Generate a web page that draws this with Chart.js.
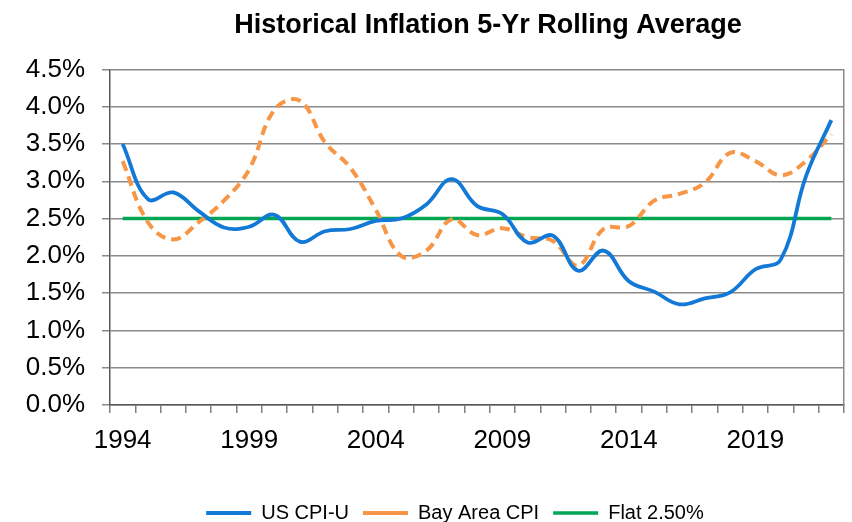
<!DOCTYPE html>
<html>
<head>
<meta charset="utf-8">
<script src="https://cdn.jsdelivr.net/npm/chart.js@4.4.1/dist/chart.umd.min.js"></script>
<style>
  html, body { margin: 0; padding: 0; background: #ffffff; }
  #wrap { width: 852px; height: 522px; }
</style>
</head>
<body>
<div id="wrap"><canvas id="c" width="852" height="522"></canvas></div>
<script>
const years = [1994,1995,1996,1997,1998,1999,2000,2001,2002,2003,2004,2005,2006,2007,2008,2009,2010,2011,2012,2013,2014,2015,2016,2017,2018,2019,2020,2021,2022];
const usCpiU = [3.50,2.76,2.85,2.60,2.38,2.39,2.55,2.19,2.33,2.36,2.47,2.50,2.69,3.03,2.67,2.56,2.18,2.27,1.80,2.07,1.66,1.52,1.35,1.43,1.51,1.82,1.95,3.07,3.82];
const bayAreaCpi = [3.27,2.45,2.22,2.45,2.74,3.16,3.96,4.08,3.52,3.18,2.62,2.00,2.07,2.49,2.28,2.37,2.25,2.20,1.87,2.36,2.40,2.74,2.83,2.98,3.38,3.27,3.08,3.27,3.63];
const flat = years.map(() => 2.5);
const labeledYears = [1994,1999,2004,2009,2014,2019];
const yTicks = [0,0.5,1,1.5,2,2.5,3,3.5,4,4.5];

const FONT = "'Liberation Sans', Arial, sans-serif";

// nudge title and legend horizontally to match the original placement
const nudge = {
  id: 'nudge',
  afterLayout(chart) {
    if (chart.legend) { chart.legend.left += 24; chart.legend.right += 24; }
    if (chart.titleBlock) { chart.titleBlock.left += 11; chart.titleBlock.right += 11; }
  }
};

new Chart(document.getElementById('c'), {
  type: 'line',
  data: {
    labels: years.map(String),
    datasets: [
      { label: 'US CPI-U', data: usCpiU, borderColor: '#1279D6', backgroundColor: '#1279D6', borderWidth: 3.8, pointRadius: 0, tension: 0.4, fill: false },
      { label: 'Bay Area CPI', data: bayAreaCpi, borderColor: '#F79646', backgroundColor: '#F79646', borderWidth: 4, borderDash: [10, 6], pointRadius: 0, tension: 0.4, fill: false },
      { label: 'Flat 2.50%', data: flat, borderColor: '#00A651', backgroundColor: '#00A651', borderWidth: 3.5, pointRadius: 0, tension: 0, fill: false }
    ]
  },
  plugins: [nudge],
  options: {
    responsive: false,
    animation: false,
    devicePixelRatio: 1,
    layout: { padding: { left: 18, right: 8, top: 0, bottom: -11 } },
    plugins: {
      title: {
        display: true,
        text: 'Historical Inflation 5-Yr Rolling Average',
        color: '#000000',
        fullSize: false,
        font: { family: FONT, size: 27, weight: 'bold' },
        padding: { top: 9, bottom: 28 }
      },
      legend: {
        position: 'bottom',
        labels: {
          usePointStyle: true,
          pointStyle: 'line',
          pointStyleWidth: 45,
          color: '#000000',
          font: { family: FONT, size: 20 },
          padding: 14
        }
      },
      tooltip: { enabled: false }
    },
    scales: {
      x: {
        type: 'category',
        offset: true,
        afterFit: (axis) => { axis.height = 84; },
        grid: { display: true, drawOnChartArea: false, drawTicks: true, tickLength: 8, offset: true, color: '#7f7f7f', lineWidth: 1.5 },
        border: { display: true, color: '#595959', width: 1.5 },
        ticks: {
          autoSkip: false, maxRotation: 0, minRotation: 0, padding: 12,
          color: '#000000', font: { family: FONT, size: 26 },
          callback: function(v, i) { const y = years[i]; return labeledYears.includes(y) ? String(y) : ''; }
        }
      },
      y: {
        min: 0, max: 4.5,
        afterFit: (axis) => { axis.width = 92; },
        afterBuildTicks: (axis) => { axis.ticks = yTicks.map(v => ({ value: v })); },
        grid: { color: '#8a8a8a', lineWidth: 1.5, tickLength: 8, drawTicks: true },
        border: { display: true, color: '#595959', width: 1.5 },
        ticks: { padding: 17, color: '#000000', font: { family: FONT, size: 26 }, callback: (v) => Number(v).toFixed(1) + '%' }
      },
      y2: {
        position: 'right', min: 0, max: 4.5,
        grid: { drawOnChartArea: false, drawTicks: false },
        border: { display: true, color: '#8a8a8a', width: 1.5 },
        ticks: { display: false }
      }
    }
  }
});
</script>
</body>
</html>
